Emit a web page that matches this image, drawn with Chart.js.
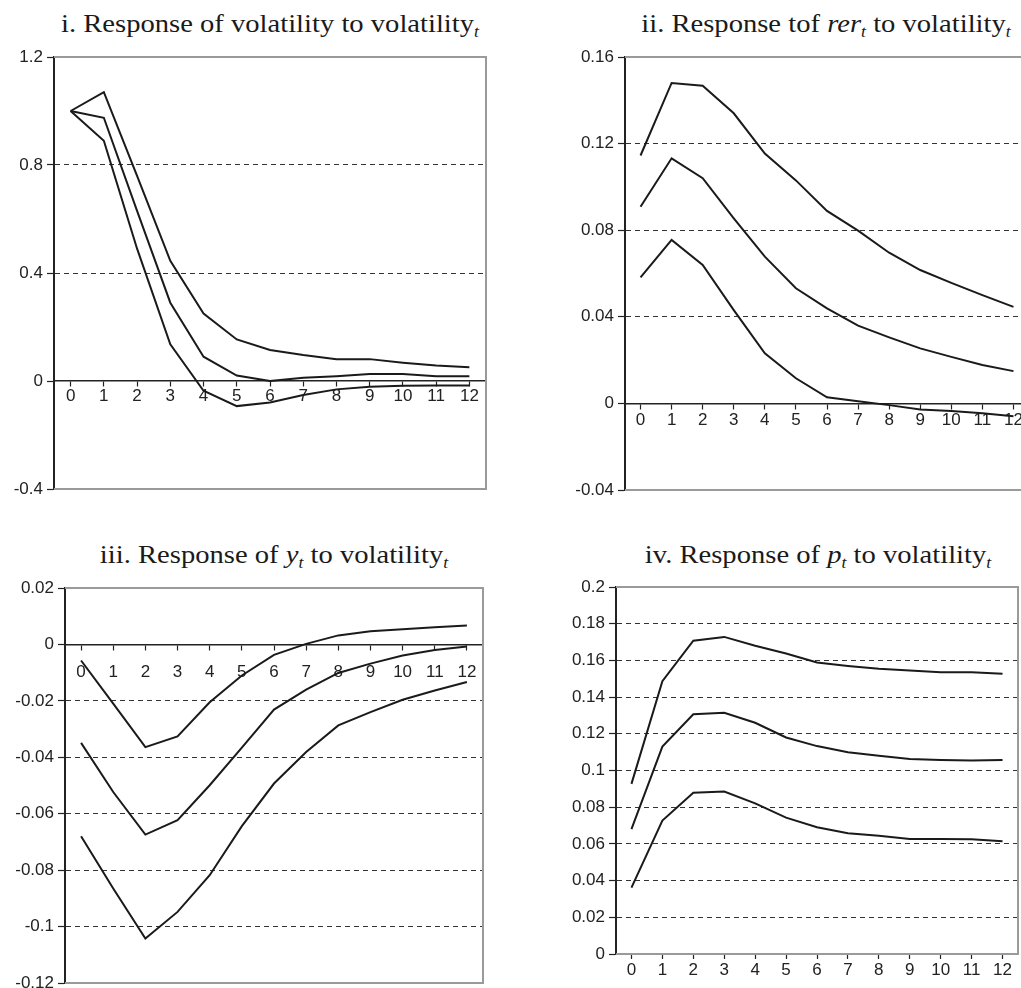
<!DOCTYPE html>
<html>
<head>
<meta charset="utf-8">
<script src="https://cdn.jsdelivr.net/npm/chart.js@4"></script>
<style>
  html, body { margin: 0; padding: 0; background: #fff; }
  body { width: 1021px; height: 988px; overflow: hidden; position: relative; }
  canvas { position: absolute; }
  .title {
    position: absolute; width: 600px; text-align: center; white-space: nowrap;
    font-family: 'Liberation Serif', 'Times New Roman', serif; font-size: 26px;
    line-height: 32px; color: #1a1a1a;
    transform: scaleX(1.1); transform-origin: 50% 50%;
  }
  .title sub { font-size: 0.62em; vertical-align: -0.3em; line-height: 0; font-style: italic; }
</style>
</head>
<body>
<div class="title" style="left:-30px;top:8px">i. Response of volatility to volatility<sub>t</sub></div>
<div class="title" style="left:526px;top:8px">ii. Response tof <i>rer</i><sub>t</sub> to volatility<sub>t</sub></div>
<div class="title" style="left:-26px;top:539px">iii. Response of <i>y</i><sub>t</sub> to volatility<sub>t</sub></div>
<div class="title" style="left:518px;top:539px">iv. Response of <i>p</i><sub>t</sub> to volatility<sub>t</sub></div>

<canvas id="c1"></canvas>
<canvas id="c2"></canvas>
<canvas id="c3"></canvas>
<canvas id="c4"></canvas>

<script>
// horizons (x categories)
const horizons = ['0', '1', '2', '3', '4', '5', '6', '7', '8', '9', '10', '11', '12'];

// i. volatility -> volatility
const volTicks = [-0.4, 0, 0.4, 0.8, 1.2];
const volUpper = [1.0, 1.07, 0.76, 0.445, 0.25, 0.154, 0.115, 0.096, 0.081, 0.081, 0.068, 0.057, 0.051];
const volMid   = [1.0, 0.975, 0.63, 0.29, 0.09, 0.02, 0.0, 0.012, 0.018, 0.026, 0.026, 0.018, 0.018];
const volLower = [1.0, 0.89, 0.49, 0.136, -0.036, -0.093, -0.08, -0.052, -0.031, -0.021, -0.018, -0.017, -0.017];

// ii. rer -> volatility
const rerTicks = [-0.04, 0, 0.04, 0.08, 0.12, 0.16];
const rerUpper = [0.1145, 0.148, 0.1467, 0.134, 0.1154, 0.103, 0.0889, 0.0798, 0.0696, 0.0616, 0.0557, 0.050, 0.0446];
const rerMid   = [0.0908, 0.1132, 0.104, 0.0855, 0.0678, 0.0532, 0.0439, 0.0359, 0.0305, 0.0254, 0.0215, 0.0177, 0.0149];
const rerLower = [0.0582, 0.0755, 0.0639, 0.0431, 0.0231, 0.0116, 0.0028, 0.001, -0.0008, -0.0028, -0.0035, -0.0046, -0.0059];

// iii. y -> volatility
const yTicks = [-0.12, -0.1, -0.08, -0.06, -0.04, -0.02, 0, 0.02];
const yUpper = [-0.0057, -0.021, -0.0364, -0.0326, -0.0205, -0.011, -0.0037, 0.0002, 0.0032, 0.0047, 0.0054, 0.0061, 0.0067];
const yMid   = [-0.0349, -0.0523, -0.0674, -0.0623, -0.0499, -0.0366, -0.0231, -0.016, -0.0101, -0.0068, -0.0039, -0.002, -0.0007];
const yLower = [-0.068, -0.0865, -0.1042, -0.0948, -0.0818, -0.0644, -0.0493, -0.0381, -0.0287, -0.024, -0.0196, -0.0163, -0.0133];

// iv. p -> volatility
const pTicks = [0, 0.02, 0.04, 0.06, 0.08, 0.1, 0.12, 0.14, 0.16, 0.18, 0.2];
const pUpper = [0.0927, 0.1487, 0.1707, 0.1728, 0.168, 0.1638, 0.1589, 0.157, 0.1554, 0.1545, 0.1535, 0.1535, 0.1527];
const pMid   = [0.068, 0.113, 0.1306, 0.1315, 0.126, 0.118, 0.1133, 0.1099, 0.108, 0.1063, 0.1057, 0.1054, 0.1057];
const pLower = [0.0362, 0.0727, 0.0879, 0.0885, 0.0821, 0.0743, 0.0691, 0.0658, 0.0644, 0.0627, 0.0627, 0.0625, 0.0615];

const FONT = { family: "'Liberation Sans', Arial, sans-serif", size: 17 };
const AXIS_W = 60, PAD_T = 15, PAD_R = 20, PAD_B = 30;

// gray frame on top/right/bottom of the plot area
const framePlugin = {
  id: 'frame',
  beforeDatasetsDraw(chart) {
    const { ctx, chartArea: a } = chart;
    ctx.save();
    ctx.strokeStyle = '#9a9a9a';
    ctx.lineWidth = 2;
    ctx.beginPath();
    ctx.moveTo(a.left, a.top);
    ctx.lineTo(a.right, a.top);
    ctx.lineTo(a.right, a.bottom);
    ctx.lineTo(a.left, a.bottom);
    ctx.stroke();
    ctx.restore();
  },
};

function lineSet(data) {
  return { data, borderColor: '#1a1a1a', borderWidth: 2, pointRadius: 0, tension: 0, fill: false };
}

function makePanel(id, box, series, ticks, xAtZero, labelPad) {
  const el = document.getElementById(id);
  const left = Math.round(box.l - AXIS_W), top = Math.round(box.t - PAD_T);
  el.width = Math.round(box.r + PAD_R - left);
  el.height = Math.round(box.b + PAD_B - top);
  el.style.left = left + 'px';
  el.style.top = top + 'px';
  const min = ticks[0], max = ticks[ticks.length - 1];

  return new Chart(el.getContext('2d'), {
    type: 'line',
    data: { labels: horizons, datasets: series.map(lineSet) },
    options: {
      responsive: false, animation: false,
      layout: { padding: { left: 0, top: PAD_T, right: PAD_R, bottom: xAtZero ? PAD_B : 0 } },
      plugins: { legend: { display: false }, tooltip: { enabled: false } },
      scales: {
        x: {
          type: 'category', offset: true,
          position: xAtZero ? { y: 0 } : 'bottom',
          // axis at zero takes no room; bottom axis fills the bottom strip
          afterFit: s => { s.height = xAtZero ? 0 : PAD_B; },
          grid: { drawOnChartArea: false, drawTicks: true, tickLength: 5, tickColor: '#222', tickWidth: 1.2 },
          border: { color: '#222', width: 1.5 },
          ticks: { color: '#222', font: FONT, padding: labelPad, maxRotation: 0, autoSkip: false },
        },
        y: {
          min, max,
          afterFit: s => { s.width = AXIS_W; },
          afterBuildTicks: s => { s.ticks = ticks.map(v => ({ value: v })); },
          grid: {
            color: c => (c.tick && (c.tick.value === min || c.tick.value === max || c.tick.value === 0)) ? 'rgba(0,0,0,0)' : '#333',
            lineWidth: 1, tickLength: 7, tickColor: '#222', tickWidth: 1.2, tickBorderDash: [],
          },
          border: { color: '#222', width: 2, dash: [5, 4] },
          ticks: { color: '#222', font: FONT, padding: 4, callback: v => String(+(+v).toFixed(2)) },
        },
      },
    },
    plugins: [framePlugin],
  });
}

makePanel('c1', { l: 54, t: 57, r: 486, b: 489 }, [volUpper, volMid, volLower], volTicks, true, 0);
makePanel('c2', { l: 624.5, t: 57.3, r: 1028.6, b: 490 }, [rerUpper, rerMid, rerLower], rerTicks, true, 2);
makePanel('c3', { l: 65, t: 587.7, r: 483.3, b: 982.7 }, [yUpper, yMid, yLower], yTicks, true, 13);
makePanel('c4', { l: 616, t: 586.7, r: 1018.3, b: 954.3 }, [pUpper, pMid, pLower], pTicks, false, 1);
</script>
</body>
</html>
